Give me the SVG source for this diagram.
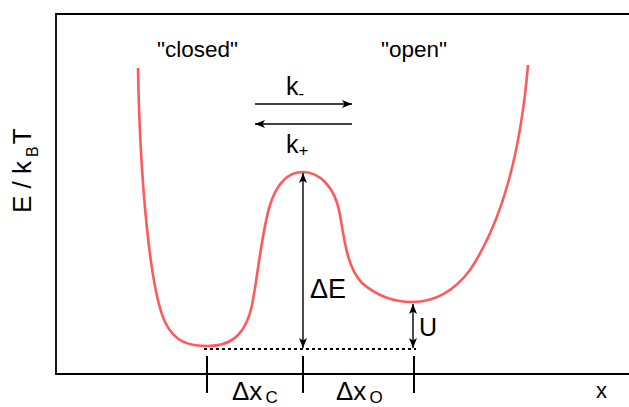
<svg xmlns="http://www.w3.org/2000/svg" width="629" height="407" viewBox="0 0 629 407">
<style>
text{font-family:"Liberation Sans",Arial,sans-serif;fill:#000}
.lbl{font-size:22.5px}
.frame{fill:none;stroke:#000;stroke-width:1.8}
.tick{stroke:#000;stroke-width:2}
.arr{stroke:#000;stroke-width:1.4;fill:none}
.curve{fill:none;stroke:#ff5a5a;stroke-width:2.6}
</style>
<defs>
<marker id="ah" viewBox="0 0 10 8" refX="10" refY="4" markerWidth="10" markerHeight="8" markerUnits="userSpaceOnUse" orient="auto-start-reverse">
<path d="M0,0 L10,4 L0,8 L2.5,4 z" fill="#000"/>
</marker>
</defs>
<g id="axes">
<path class="frame" d="M629,14 H56 V374 H629"/>
<line class="tick" x1="207" y1="356" x2="207" y2="393"/>
<line class="tick" x1="303" y1="356" x2="303" y2="393"/>
<line class="tick" x1="414" y1="356" x2="414" y2="393"/>
</g>
<g id="ylabel">
<text transform="translate(31,213) rotate(-90)" font-size="26">E / k<tspan dx="4" dy="7" font-size="16">B</tspan><tspan dx="2" dy="-7">T</tspan></text>
</g>
<g id="xlabel"><text x="596" y="398" font-size="22">x</text></g>
<g id="curve">
<path class="curve" d="M138,68 C140,180 150,290 165,322 C175,343 190,346 208,346 C228,346 245,338 252,305 C258,275 262,230 270,205 C278,180 290,172 303,172 C318,172 335,185 340,215 C345,245 348,268 362,283 C377,296 392,302 412,302 C435,302 455,290 470,270 C500,225 520,160 528,65"/>
</g>
<g id="closed"><text class="lbl" x="157" y="57">"closed"</text></g>
<g id="open"><text class="lbl" x="381" y="57">"open"</text></g>
<g id="connectors">
<line class="arr" x1="255" y1="104" x2="352" y2="104" marker-end="url(#ah)"/>
<line class="arr" x1="352" y1="124" x2="255" y2="124" marker-end="url(#ah)"/>
<line class="arr" x1="303" y1="173" x2="303" y2="348" marker-start="url(#ah)" marker-end="url(#ah)"/>
<line class="arr" x1="413" y1="304" x2="413" y2="348" marker-start="url(#ah)" marker-end="url(#ah)"/>
<line x1="204" y1="349" x2="416" y2="349" stroke="#000" stroke-width="2" stroke-dasharray="3,3"/>
</g>
<g id="kminus"><text x="286" y="95" font-size="25">k<tspan dy="4" font-size="17">-</tspan></text></g>
<g id="kplus"><text x="286" y="153" font-size="25">k<tspan dy="3" font-size="17">+</tspan></text></g>
<g id="dE"><text x="310" y="298" font-size="27">ΔE</text></g>
<g id="U"><text x="419" y="336" font-size="25">U</text></g>
<g id="dxc"><text x="232" y="400" font-size="26">Δx<tspan dx="3" dy="3" font-size="17">C</tspan></text></g>
<g id="dxo"><text x="336" y="400" font-size="26">Δx<tspan dx="3" dy="3" font-size="17">O</tspan></text></g>
</svg>
